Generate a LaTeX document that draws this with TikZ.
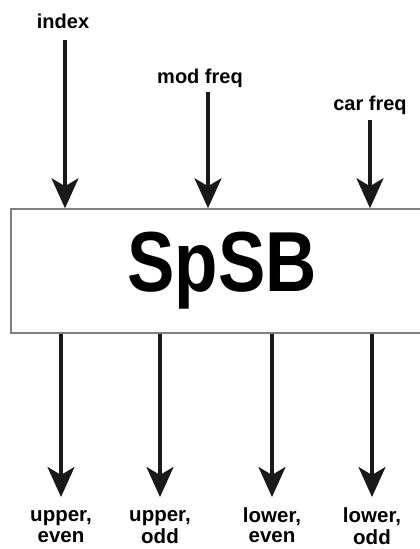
\documentclass[tikz,border=0pt]{standalone}
\usepackage{fontspec}
\setmainfont{Liberation Sans}
\usetikzlibrary{arrows.meta, positioning}
\tikzstyle{sig} = [line width=3.2pt, draw=black!90, -{Stealth[length=30pt, width=27pt, inset=8pt]}]
\tikzstyle{lbl} = [font=\fontsize{20}{21}\selectfont\bfseries, inner sep=0pt, text depth=0pt]
\tikzstyle{outlbl} = [lbl, font=\fontsize{20.5}{20.5}\selectfont\bfseries, align=center, anchor=north]
\tikzstyle{block} = [draw=black!50, line width=1.5pt, minimum width=422pt, minimum height=124pt, inner sep=0pt]

\begin{document}
\begin{tikzpicture}[x=1pt, y=-1pt]
\useasboundingbox (0,0) rectangle (420,549);
\node[block] (box) at (222,271) {\fontsize{71}{71}\selectfont\bfseries\scalebox{1}[1.2]{SpSB}};

% inputs from the top
\node[lbl, anchor=base] (idx) at (63,28) {index};
\node[lbl, anchor=base] (modf) at (200,83) {mod freq};
\node[lbl, anchor=base] (carf) at (370,110) {car freq};
\draw[sig, shorten <=12pt] ([xshift=2pt]idx.south) -- ([xshift=2pt]idx.south |- box.north);
\draw[sig, shorten <=9pt] ([xshift=8pt]modf.south) -- ([xshift=8pt]modf.south |- box.north);
\draw[sig, shorten <=10pt] (carf.south) -- (carf.south |- box.north);

% outputs below the block (\strut keeps the first lines level)
\node[outlbl] (ue) at (61,507) {\strut upper,\\even};
\node[outlbl] (uo) at (160,507) {\strut upper,\\odd};
\node[outlbl] (le) at (272,507) {\strut lower,\\even};
\node[outlbl] (lo) at (372,507) {\strut lower,\\odd};
\draw[sig, shorten >=10pt] (box.south -| ue) -- (ue.north);
\draw[sig, shorten >=10pt] (box.south -| uo) -- (uo.north);
\draw[sig, shorten >=10pt] (box.south -| le) -- (le.north);
\draw[sig, shorten >=10pt] (box.south -| lo) -- (lo.north);
\end{tikzpicture}
\end{document}
